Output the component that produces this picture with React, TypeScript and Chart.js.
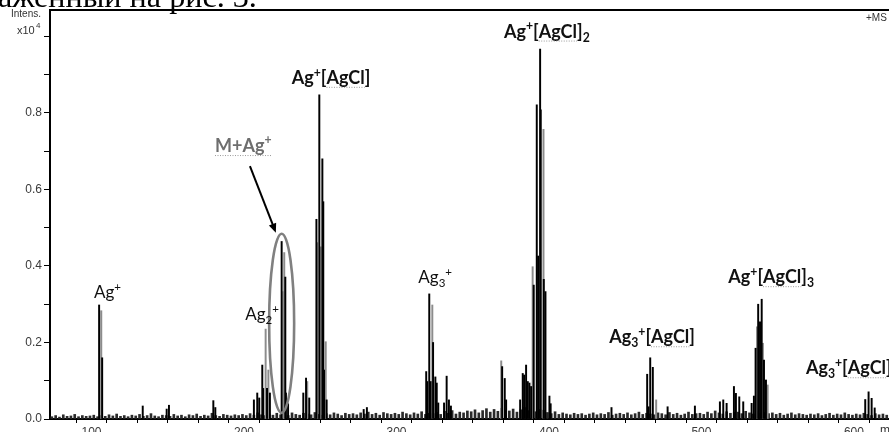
import React, { useEffect, useRef } from 'react';
import { Chart, registerables } from 'chart.js';

Chart.register(...registerables);

// ---- data (m/z, intensity x10^4) ----
const blackMz = [105.0, 107.0, 133.6, 149.3, 150.8, 179.9, 181.2, 206.5, 208.7, 210.0, 212.0, 212.6, 215.1, 217.0, 224.7, 227.1, 227.5, 228.9, 238.9, 240.7, 242.8, 247.5, 249.4, 251.4, 252.0, 252.5, 254.2, 278.5, 280.6, 319.5, 320.2, 321.5, 322.4, 324.0, 325.5, 326.4, 327.4, 331.2, 332.9, 334.4, 335.7, 369.3, 371.0, 371.9, 381.1, 382.8, 383.7, 385.0, 386.1, 387.2, 388.3, 390.0, 392.0, 392.9, 394.2, 394.6, 396.6, 397.7, 400.3, 401.1, 441.0, 464.4, 465.3, 466.4, 468.1, 477.8, 495.7, 512.1, 514.3, 516.5, 521.3, 522.6, 524.8, 527.4, 532.9, 534.4, 535.5, 537.2, 538.4, 539.5, 541.0, 542.3, 607.4, 609.6, 611.6, 613.6];
const blackInt = [0.298, 0.160, 0.034, 0.026, 0.036, 0.048, 0.030, 0.050, 0.068, 0.055, 0.141, 0.080, 0.080, 0.068, 0.464, 0.371, 0.068, 0.040, 0.068, 0.107, 0.055, 0.522, 0.847, 0.680, 0.568, 0.128, 0.050, 0.025, 0.030, 0.124, 0.098, 0.327, 0.098, 0.200, 0.110, 0.094, 0.042, 0.042, 0.112, 0.050, 0.034, 0.137, 0.106, 0.050, 0.050, 0.119, 0.115, 0.141, 0.098, 0.094, 0.085, 0.350, 0.821, 0.426, 0.967, 0.808, 0.365, 0.333, 0.060, 0.040, 0.030, 0.117, 0.032, 0.160, 0.135, 0.032, 0.034, 0.045, 0.050, 0.041, 0.085, 0.067, 0.058, 0.045, 0.041, 0.060, 0.185, 0.300, 0.254, 0.313, 0.154, 0.102, 0.051, 0.071, 0.054, 0.029];

const grayMz = [106.4, 214.2, 216.0, 225.8, 226.4, 241.5, 248.0, 250.3, 253.6, 323.5, 368.7, 389.3, 396.4, 470.3, 536.4, 540.3, 543.4];
const grayInt = [0.283, 0.235, 0.128, 0.333, 0.435, 0.098, 0.461, 0.450, 0.202, 0.298, 0.152, 0.398, 0.757, 0.050, 0.241, 0.198, 0.089];

// baseline noise, m/z from 74 in steps of 2.5, intensity in 1/1000
const noiseStart = 74;
const noiseStep = 2.5;
const noiseMilli = [
  6, 9, 5, 11, 7, 8, 12, 6, 9, 7,
  8, 10, 6, 9, 7, 11, 8, 13, 7, 9,
  6, 10, 8, 12, 7, 9, 14, 8, 6, 10,
  9, 7, 12, 8, 10, 6, 11, 9, 13, 7,
  10, 8, 15, 9, 7, 12, 10, 8, 11, 9,
  12, 9, 14, 10, 16, 11, 9, 13, 10, 15,
  11, 14, 9, 16, 12, 10, 15, 13, 11, 17,
  12, 10, 14, 11, 16, 13, 9, 15, 12, 14,
  11, 16, 13, 18, 12, 15, 10, 17, 14, 12,
  15, 12, 18, 14, 11, 16, 13, 19, 12, 15,
  14, 17, 12, 20, 15, 22, 13, 18, 16, 21,
  19, 24, 16, 22, 27, 18, 25, 20, 28, 23,
  21, 26, 18, 24, 30, 22, 27, 19, 25, 23,
  17, 14, 19, 12, 16, 13, 11, 15, 12, 14,
  10, 13, 16, 11, 14, 12, 17, 10, 13, 15,
  12, 16, 11, 14, 18, 12, 15, 13, 11, 16,
  14, 11, 17, 12, 15, 10, 13, 18, 12, 14,
  15, 12, 18, 14, 21, 16, 13, 19, 15, 17,
  18, 14, 20, 16, 13, 19, 15, 17, 14, 16,
  12, 15, 10, 13, 16, 11, 14, 12, 10, 13,
  11, 14, 9, 12, 15, 10, 13, 11, 16, 12,
  10, 13, 11, 15, 12, 9, 14, 11, 13, 10,
  12, 9, 14, 11,
];

const xMin = 72.79;
const xMax = 630.2;
const yMax = 1.069;

type Part = { t: string; k?: 'sup' | 'sub'; ul?: boolean };
type Ann = { mz: number; v: number; bold: boolean; color?: string; ulAll?: boolean; parts: Part[] };

const annotations: Ann[] = [
  { mz: 101.6, v: 0.316, bold: false, parts: [{ t: 'Ag' }, { t: '+', k: 'sup' }] },
  { mz: 200.8, v: 0.259, bold: false, parts: [{ t: 'Ag' }, { t: '2', k: 'sub' }, { t: '+', k: 'sup' }] },
  { mz: 181.0, v: 0.699, bold: true, color: '#6e6e6e', ulAll: true, parts: [{ t: 'M+Ag' }, { t: '+', k: 'sup' }] },
  { mz: 231.3, v: 0.876, bold: true, parts: [{ t: 'Ag' }, { t: '+', k: 'sup' }, { t: '[' }, { t: 'AgCl', ul: true }, { t: ']' }] },
  { mz: 370.5, v: 0.997, bold: true, parts: [{ t: 'Ag' }, { t: '+', k: 'sup' }, { t: '[' }, { t: 'AgCl', ul: true }, { t: ']' }, { t: '2', k: 'sub' }] },
  { mz: 314.3, v: 0.356, bold: false, parts: [{ t: 'Ag' }, { t: '3', k: 'sub' }, { t: '+', k: 'sup' }] },
  { mz: 439.5, v: 0.198, bold: true, parts: [{ t: 'Ag' }, { t: '3', k: 'sub' }, { t: '+', k: 'sup' }, { t: '[' }, { t: 'AgCl', ul: true }, { t: ']' }] },
  { mz: 517.6, v: 0.355, bold: true, parts: [{ t: 'Ag' }, { t: '+', k: 'sup' }, { t: '[' }, { t: 'AgCl', ul: true }, { t: ']' }, { t: '3', k: 'sub' }] },
  { mz: 568.5, v: 0.117, bold: true, parts: [{ t: 'Ag' }, { t: '3', k: 'sub' }, { t: '+', k: 'sup' }, { t: '[' }, { t: 'AgCl', ul: true }, { t: ']' }] },
];

const ellipse = { mz: 224.7, v: 0.25, rmz: 8.2, rv: 0.234 };
const arrow = { fromMz: 203.9, fromV: 0.661, toMz: 220.9, toV: 0.487 };

function drawRich(ctx: CanvasRenderingContext2D, x: number, y: number, a: Ann, size: number) {
  let cx = x;
  const color = a.color || '#111';
  const start = cx;
  for (const p of a.parts) {
    const s = p.k ? size * 0.68 : size;
    ctx.font = `${a.bold ? 'bold ' : ''}${s}px Lato`;
    const dy = p.k === 'sup' ? -size * 0.4 : p.k === 'sub' ? size * 0.22 : 0;
    ctx.fillStyle = color;
    ctx.textBaseline = 'alphabetic';
    ctx.textAlign = 'left';
    ctx.fillText(p.t, cx, y + dy);
    const w = ctx.measureText(p.t).width;
    if (p.ul) {
      ctx.save();
      ctx.strokeStyle = '#9a9a9a';
      ctx.lineWidth = 1;
      ctx.setLineDash([1, 1.5]);
      ctx.beginPath();
      ctx.moveTo(cx, y + 3.5);
      ctx.lineTo(cx + w, y + 3.5);
      ctx.stroke();
      ctx.restore();
    }
    cx += w;
  }
  if (a.ulAll) {
    ctx.save();
    ctx.strokeStyle = '#9a9a9a';
    ctx.lineWidth = 1;
    ctx.setLineDash([1, 1.5]);
    ctx.beginPath();
    ctx.moveTo(start, y + 4);
    ctx.lineTo(cx, y + 4);
    ctx.stroke();
    ctx.restore();
  }
}

const overlayPlugin = {
  id: 'overlay',
  afterDatasetsDraw(chart: any) {
    const ctx: CanvasRenderingContext2D = chart.ctx;
    const xs = chart.scales.x;
    const ys = chart.scales.y;
    const ca = chart.chartArea;
    ctx.save();

    // top frame line
    ctx.strokeStyle = '#000';
    ctx.lineWidth = 2;
    ctx.beginPath();
    ctx.moveTo(ca.left - 1, ca.top);
    ctx.lineTo(ca.right, ca.top);
    ctx.stroke();

    // ellipse
    const ex = xs.getPixelForValue(ellipse.mz);
    const ey = ys.getPixelForValue(ellipse.v);
    const rx = xs.getPixelForValue(ellipse.mz + ellipse.rmz) - ex;
    const ry = ey - ys.getPixelForValue(ellipse.v + ellipse.rv);
    ctx.strokeStyle = '#808080';
    ctx.lineWidth = 2.6;
    ctx.beginPath();
    ctx.ellipse(ex, ey, rx, ry, 0, 0, Math.PI * 2);
    ctx.stroke();

    // arrow
    const ax1 = xs.getPixelForValue(arrow.fromMz);
    const ay1 = ys.getPixelForValue(arrow.fromV);
    const ax2 = xs.getPixelForValue(arrow.toMz);
    const ay2 = ys.getPixelForValue(arrow.toV);
    const ang = Math.atan2(ay2 - ay1, ax2 - ax1);
    const hl = 10;
    ctx.strokeStyle = '#000';
    ctx.fillStyle = '#000';
    ctx.lineWidth = 2;
    ctx.beginPath();
    ctx.moveTo(ax1, ay1);
    ctx.lineTo(ax2 - Math.cos(ang) * hl * 0.8, ay2 - Math.sin(ang) * hl * 0.8);
    ctx.stroke();
    ctx.beginPath();
    ctx.moveTo(ax2, ay2);
    ctx.lineTo(ax2 - hl * Math.cos(ang - 0.4), ay2 - hl * Math.sin(ang - 0.4));
    ctx.lineTo(ax2 - hl * Math.cos(ang + 0.4), ay2 - hl * Math.sin(ang + 0.4));
    ctx.closePath();
    ctx.fill();

    // annotations
    for (const a of annotations) {
      drawRich(ctx, xs.getPixelForValue(a.mz), ys.getPixelForValue(a.v), a, a.bold ? 18 : 17);
    }

    // small axis texts
    ctx.fillStyle = '#333';
    ctx.textBaseline = 'alphabetic';
    ctx.textAlign = 'left';
    ctx.font = '10px "Liberation Sans"';
    ctx.fillText('Intens.', 11, 17);
    ctx.font = '11px "Liberation Sans"';
    ctx.fillText('x10', 17, 34);
    ctx.font = '8px "Liberation Sans"';
    ctx.fillText('4', 36, 28);
    ctx.font = '10px "Liberation Sans"';
    ctx.fillText('+MS', 866, 21);
    ctx.font = '12px "Liberation Sans"';
    ctx.textBaseline = 'top';
    ctx.fillText('m/z', 880, 425);

    // heading text from the page above (cut off)
    const head = 'аженный на рис. 3.';
    ctx.font = '30px "Liberation Serif"';
    const w30 = ctx.measureText(head).width;
    const fs = 30 * 259 / w30;
    ctx.font = `${fs}px "Liberation Serif"`;
    ctx.fillStyle = '#000';
    ctx.textBaseline = 'alphabetic';
    ctx.fillText(head, -2, 7);

    ctx.restore();
  },
};

export default function App() {
  const ref = useRef<HTMLCanvasElement | null>(null);

  useEffect(() => {
    if (!ref.current) return;
    const black = blackMz.map((m, i) => ({ x: m, y: blackInt[i] }));
    const gray = grayMz.map((m, i) => ({ x: m, y: grayInt[i] }));
    const noise = noiseMilli.map((v, i) => ({ x: noiseStart + i * noiseStep, y: v / 1000 }));
    const tickFont = { family: '"Liberation Sans", Arial, sans-serif', size: 12 };
    const chart = new Chart(ref.current, {
      type: 'bar',
      data: {
        datasets: [
          { data: black, backgroundColor: '#000', barThickness: 1.3, grouped: false } as any,
          { data: gray, backgroundColor: '#8c8c8c', barThickness: 1.3, grouped: false } as any,
          { data: noise, backgroundColor: '#2a2a2a', barThickness: 2, grouped: false } as any,
        ],
      },
      options: {
        animation: false,
        responsive: false,
        maintainAspectRatio: false,
        layout: { padding: { top: 10, left: 0, right: 0, bottom: 0 } },
        plugins: { legend: { display: false }, tooltip: { enabled: false } },
        scales: {
          x: {
            type: 'linear',
            min: xMin,
            max: xMax,
            offset: false,
            grid: { display: true, drawOnChartArea: false, drawTicks: true, tickLength: 4, color: '#000', lineWidth: 1 },
            border: { display: true, color: '#000', width: 2 },
            ticks: {
              stepSize: 20,
              includeBounds: false,
              autoSkip: false,
              maxRotation: 0,
              padding: 2,
              color: '#3a3a3a',
              font: tickFont,
              callback: (v: any) => (Math.round(v) % 100 === 0 ? String(Math.round(v)) : ''),
            },
            afterFit: (s: any) => { s.height = 31; },
          },
          y: {
            min: 0,
            max: yMax,
            grid: { display: true, drawOnChartArea: false, drawTicks: true, tickLength: 6, color: '#000', lineWidth: 1 },
            border: { display: true, color: '#000', width: 2 },
            ticks: {
              stepSize: 0.1,
              includeBounds: false,
              autoSkip: false,
              padding: 2,
              color: '#3a3a3a',
              font: tickFont,
              callback: (v: any) => {
                const k = Math.round(v * 10);
                return k % 2 === 0 && k <= 8 ? (k / 10).toFixed(1) : '';
              },
            },
            afterFit: (s: any) => { s.width = 50; },
          },
        },
      } as any,
      plugins: [overlayPlugin],
    });
    return () => chart.destroy();
  }, []);

  return (
    <div style={{ position: 'fixed', left: 0, top: 0, width: 889, height: 432, overflow: 'hidden', background: '#fff' }}>
      <canvas ref={ref} width={900} height={450} style={{ display: 'block' }} />
    </div>
  );
}
